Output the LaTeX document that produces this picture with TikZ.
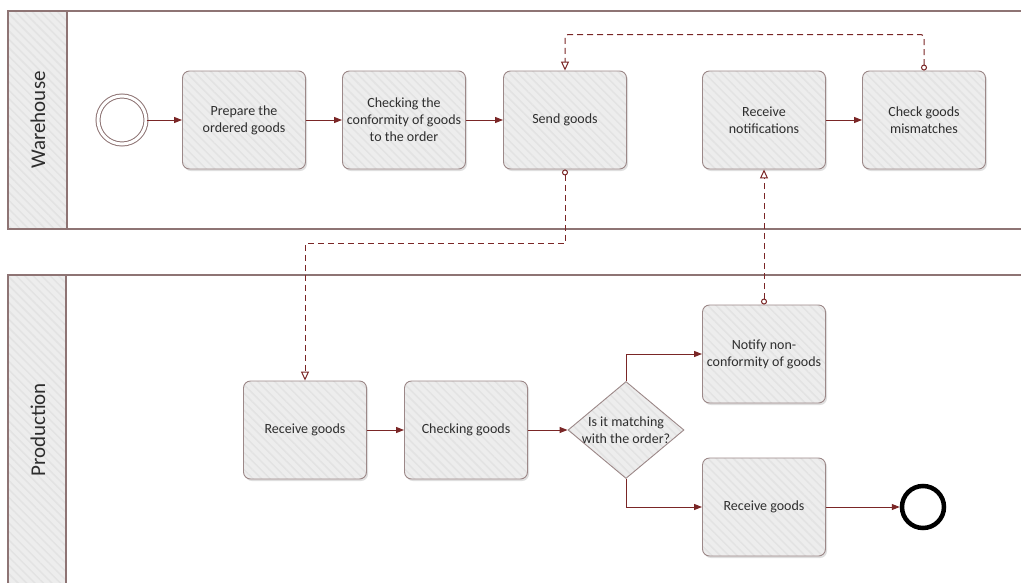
\documentclass[tikz,border=0pt]{standalone}
\usepackage{fontspec}
\setmainfont{Carlito}
\usetikzlibrary{arrows.meta,shapes.geometric,shadows,patterns.meta}
\definecolor{flowred}{HTML}{7A2626}
\definecolor{lanecol}{HTML}{8E7474}
\definecolor{taskfill}{HTML}{EDEDED}
\definecolor{hatchcol}{HTML}{E3E3E3}
\definecolor{taskline}{HTML}{9C8888}
\definecolor{textcol}{HTML}{2E2E2E}
\tikzset{
  hatch/.style={preaction={fill=taskfill},
    preaction={pattern={Lines[angle=-45,distance=6pt,line width=1.5pt]},pattern color=hatchcol}},
  task/.style={drop shadow={shadow xshift=1.5pt, shadow yshift=-2pt, opacity=0.25},
    draw=taskline, line width=0.9pt, hatch, rounded corners=7pt,
    minimum width=123pt, minimum height=98pt, align=center, text=textcol,
    font=\fontsize{14}{17}\selectfont},
  gateway/.style={diamond, draw=taskline, line width=0.9pt, hatch,
    minimum width=116pt, minimum height=97pt, inner sep=0pt},
  startev/.style={circle, draw=lanecol, line width=1pt, fill=white, minimum size=48pt,
    double=white, double distance=3pt},
  endev/.style={circle, draw=black, line width=4.5pt, fill=white, minimum size=42pt},
  lane/.style={draw=lanecol, line width=1.4pt},
  lanehead/.style={draw=lanecol, line width=1.4pt, hatch},
  lanelabel/.style={rotate=90, text=textcol, font=\fontsize{21}{24}\selectfont},
  flow/.style={draw=flowred, line width=1pt, -{Triangle[length=8pt,width=6pt]}},
  msg/.style={draw=flowred, line width=1pt, dash pattern=on 6pt off 4pt,
    {Circle[open,length=6pt,width=6pt]}-{Triangle[open,length=9pt,width=8pt]}}
}
\begin{document}
\begin{tikzpicture}[x=1pt, y=-1pt]
    \useasboundingbox (0,0) rectangle (1021,582);
    \fill[white] (0,0) rectangle (1021,582);
    \draw[lane] (8,11) rectangle (1040,229);
    \draw[lanehead] (8,11) rectangle (67,229);
    \draw[lane] (8,275) rectangle (1040,600);
    \draw[lanehead] (8,275) rectangle (66,600);
    \node [lanelabel] (warehouse) at (38,120) {Warehouse};
    \node [lanelabel] (production) at (38,430) {Production};
    \node [startev] (start) at (122,120) {};
    \node [task] (prepare) at (244,120) {Prepare the\\ordered goods};
    \node [task] (conform) at (404,120) {Checking the\\conformity of goods\\to the order};
    \node [task] (send) at (565,120) {Send goods};
    \node [task] (notices) at (764,120) {Receive\\notifications};
    \node [task] (mismatch) at (924,120) {Check goods\\mismatches};
    \node [task] (receive) at (305,430) {Receive goods};
    \node [task] (checking) at (466,430) {Checking goods};
    \node [gateway] (match) at (626,430) {};
    \node [align=center, text=textcol, font=\fontsize{14}{17}\selectfont] (question) at (match) {Is it matching\\with the order?};
    \node [task] (notify) at (764,354) {Notify non-\\conformity of goods};
    \node [task] (accept) at (764,507) {Receive goods};
    \node [endev] (finish) at (923,507) {};
    \draw[flow] (start) -- (prepare);
    \draw[flow] (prepare) -- (conform);
    \draw[flow] (conform) -- (send);
    \draw[flow] (notices) -- (mismatch);
    \draw[flow] (receive) -- (checking);
    \draw[flow] (checking) -- (match);
    \draw[flow] (match.north) |- (notify);
    \draw[flow] (match.south) |- (accept);
    \draw[flow] (accept) -- (finish);
    \draw[msg, rounded corners=3pt] (mismatch.north) -- ++(0,-36) -| (send.north);
    \draw[msg] (send.south) -- ++(0,74) -| (receive.north);
    \draw[msg] (notify.north) -- (notices.south);
  \end{tikzpicture}
\end{document}
